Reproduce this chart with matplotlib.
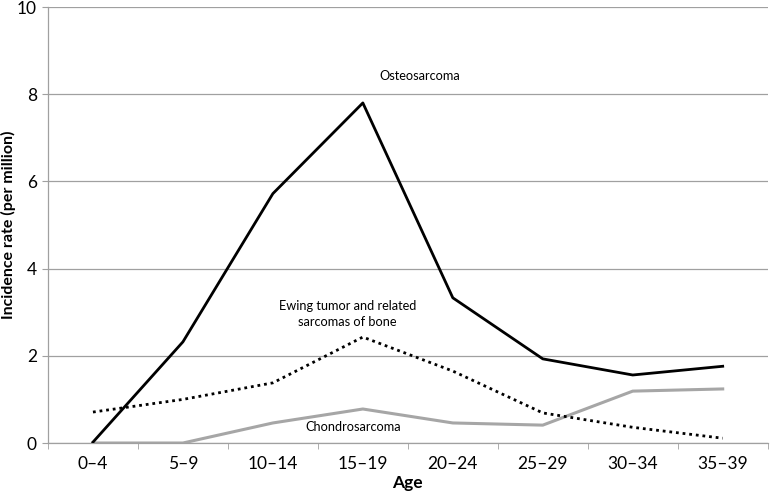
import matplotlib
matplotlib.use('Agg')
import matplotlib.pyplot as plt

ages = ['0–4', '5–9', '10–14', '15–19', '20–24', '25–29', '30–34', '35–39']
osteosarcoma = [0.02, 2.32, 5.72, 7.80, 3.33, 1.93, 1.56, 1.76]
ewing = [0.71, 1.00, 1.38, 2.43, 1.65, 0.69, 0.36, 0.11]
chondrosarcoma = [0.0, 0.0, 0.46, 0.78, 0.46, 0.41, 1.19, 1.24]

plt.rcParams['font.family'] = ['Lato', 'DejaVu Sans']

fig = plt.figure(figsize=(7.7, 4.93), dpi=100)
ax = fig.add_axes([0.0623, 0.1014, 0.9347, 0.8844])

x = range(len(ages))
ax.plot(x, osteosarcoma, color='black', lw=2.0, zorder=3)
ax.plot(x, ewing, color='black', lw=2.0, linestyle=(0, (1, 1.4)), zorder=3)
ax.plot(x, chondrosarcoma, color='#a6a6a6', lw=2.2, zorder=2)

ax.text(3.63, 8.42, 'Osteosarcoma', fontsize=9.2, ha='center', va='center')
ax.text(2.83, 2.96, 'Ewing tumor and related\nsarcomas of bone', fontsize=9.2,
        ha='center', va='center', linespacing=1.35)
ax.text(2.89, 0.37, 'Chondrosarcoma', fontsize=9.2, ha='center', va='center')

ax.set_xlim(-0.5, len(ages) - 0.5)
ax.set_ylim(0, 10)
ax.set_yticks([0, 2, 4, 6, 8, 10])
ax.set_xticks(list(x))
ax.set_xticklabels(ages, fontsize=12.5)
ax.set_xticks([i - 0.5 for i in range(len(ages) + 1)], minor=True)
ax.tick_params(axis='x', which='major', length=0, pad=9)
ax.tick_params(axis='x', which='minor', length=4, color='#a0a0a0', direction='out')
ax.tick_params(axis='y', length=4, color='#a0a0a0', labelsize=12.5, pad=4)

ax.grid(axis='y', color='#a0a0a0', lw=0.9)
ax.set_axisbelow(True)
for s in ['top', 'right']:
    ax.spines[s].set_visible(False)
for s in ['left', 'bottom']:
    ax.spines[s].set_color('#a0a0a0')
    ax.spines[s].set_linewidth(0.9)

ax.set_xlabel('Age', fontsize=12.5, fontweight='bold')
ax.xaxis.set_label_coords(0.5, -0.074)
ax.set_ylabel('Incidence rate (per million)', fontsize=11.5, fontweight='bold')
ax.yaxis.set_label_coords(-0.045, 0.5)

fig.savefig('out.png', dpi=100)
